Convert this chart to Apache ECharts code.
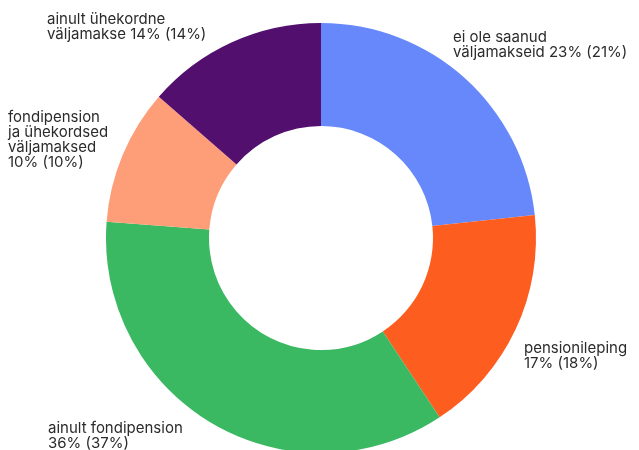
<!DOCTYPE html>
<html>
<head>
<meta charset="utf-8">
<script src="https://cdn.jsdelivr.net/npm/echarts@6/dist/echarts.min.js"></script>
<style>
  html, body { margin: 0; padding: 0; background: #fff; }
  #chart { width: 639px; height: 450px; }
</style>
</head>
<body>
<div id="chart"></div>
<script>
  // slices, clockwise from the top
  var categories = ['ei ole saanud\nväljamakseid', 'pensionileping', 'ainult fondipension', 'fondipension\nja ühekordsed\nväljamaksed', 'ainult ühekordne\nväljamakse'];
  var values = [23.3, 17.4, 35.5, 10.2, 13.6];
  var shownShare = ['23%', '17%', '36%', '10%', '14%'];
  var otherShare = ['21%', '18%', '37%', '10%', '14%'];
  var colors = ['#6688fa', '#fd5e1f', '#3ab862', '#fe9e78', '#520f6e'];

  // where each label sits (left, top of text block)
  var labelPos = [[453, 30], [524, 341], [48, 421], [8, 110], [47, 12]];
  // break between name and numbers
  var numberOnNewLine = [false, true, true, true, false];

  var myChart = echarts.init(document.getElementById('chart'));

  var option = {
    animation: false,
    series: [{
      type: 'pie',
      center: [321, 238],
      radius: [112, 215],
      startAngle: 90,
      clockwise: true,
      label: {
        show: true,
        position: 'outside',
        color: '#2b2b2b',
        fontFamily: 'Inter',
        fontSize: 15,
        lineHeight: 15,
        align: 'left',
        overflow: 'none',
        formatter: function (p) {
          var i = p.dataIndex;
          return categories[i] + (numberOnNewLine[i] ? '\n' : ' ') + shownShare[i] + ' (' + otherShare[i] + ')';
        }
      },
      labelLine: { show: false },
      labelLayout: function (p) {
        var pos = labelPos[p.dataIndex];
        return { x: pos[0], y: pos[1], align: 'left', verticalAlign: 'top' };
      },
      emphasis: { disabled: true },
      itemStyle: { borderWidth: 0 },
      data: values.map(function (v, i) {
        return { name: categories[i], value: v, itemStyle: { color: colors[i] } };
      })
    }]
  };

  myChart.setOption(option);
</script>
</body>
</html>
